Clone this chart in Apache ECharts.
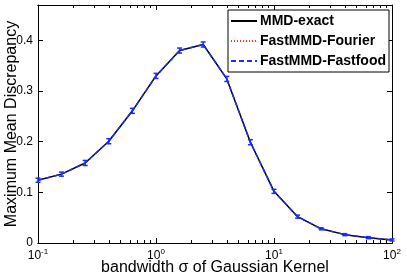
<!DOCTYPE html>
<html>
<head>
<meta charset="utf-8">
<script src="https://cdn.jsdelivr.net/npm/echarts@6/dist/echarts.min.js"></script>
<style>html,body{margin:0;padding:0;background:#fff}#c{width:407px;height:275px}</style>
</head>
<body>
<div id="c"></div>
<script>
var sigma = [0.1, 0.158, 0.251, 0.398, 0.631, 1, 1.585, 2.512, 3.981, 6.31, 10, 15.85, 25.12, 39.81, 63.1, 100];
var mmdExact    = [0.124, 0.136, 0.158, 0.201, 0.261, 0.330, 0.380, 0.392, 0.324, 0.199, 0.102, 0.052, 0.028, 0.0165, 0.0105, 0.006];
var mmdFourier  = [0.124, 0.136, 0.158, 0.201, 0.261, 0.330, 0.380, 0.392, 0.324, 0.199, 0.102, 0.052, 0.028, 0.0165, 0.0105, 0.006];
var mmdFastfood = [0.124, 0.136, 0.158, 0.201, 0.261, 0.330, 0.380, 0.392, 0.324, 0.199, 0.102, 0.052, 0.028, 0.0165, 0.0105, 0.006];
var errFastfood = [0.004, 0.004, 0.005, 0.005, 0.005, 0.005, 0.005, 0.005, 0.005, 0.005, 0.004, 0.003, 0.002, 0.002, 0.002, 0.002];
var xMajorTicks = [0.1, 1, 10, 100];
var xMinorTicks = [0.2, 0.3, 0.4, 0.5, 0.6, 0.7, 0.8, 0.9, 2, 3, 4, 5, 6, 7, 8, 9, 20, 30, 40, 50, 60, 70, 80, 90];
var yTicks = [0, 0.1, 0.2, 0.3, 0.4];
var expLabels = {0.1: '-1', 1: '0', 10: '1', 100: '2'};

var FONT = 'Liberation Sans';
var BLUE = '#1a2eff';

function pairs(ys) { return sigma.map(function (x, i) { return [x, ys[i]]; }); }

function xAxisDef(pos, minor, showLabels) {
  return {
    type: 'log', logBase: 10, min: 0.1, max: 100, position: pos,
    gridIndex: 0,
    axisLine: { show: true, onZero: false, lineStyle: { color: '#000', width: 1 } },
    axisTick: { show: true, inside: true, length: minor ? 3 : 5, lineStyle: { color: '#000' },
                customValues: minor ? xMinorTicks : xMajorTicks },
    axisLabel: showLabels ? {
      show: true, customValues: xMajorTicks, margin: 5,
      formatter: function (v) {
        var k = expLabels[v]; if (k === undefined) { k = String(Math.round(Math.log10(v))); }
        return '{b|10}{s|' + k + '}';
      },
      rich: {
        b: { fontSize: 12, fontFamily: FONT, color: '#000' },
        s: { fontSize: 8, fontFamily: FONT, color: '#000', verticalAlign: 'top', padding: [0, 0, 8, 0] }
      }
    } : { show: false },
    splitLine: { show: false },
    name: (pos === 'bottom' && showLabels) ? 'bandwidth σ of Gaussian Kernel' : '',
    nameLocation: 'middle', nameGap: 17, nameMoveOverlap: false,
    nameTextStyle: { fontSize: 16, fontFamily: FONT, color: '#000' }
  };
}

function yAxisDef(pos, showLabels) {
  return {
    type: 'value', min: 0, max: 0.47, position: pos,
    axisLine: { show: true, onZero: false, lineStyle: { color: '#000', width: 1 } },
    axisTick: { show: true, inside: true, length: 5, lineStyle: { color: '#000' }, customValues: yTicks },
    axisLabel: showLabels ? { show: true, customValues: yTicks, margin: 5, fontSize: 12, fontFamily: FONT, color: '#000' } : { show: false },
    splitLine: { show: false },
    name: showLabels ? 'Maximum Mean Discrepancy' : '',
    nameLocation: 'middle', nameGap: 18, nameMoveOverlap: false,
    nameTextStyle: { fontSize: 16, fontFamily: FONT, color: '#000' }
  };
}

var chart = echarts.init(document.getElementById('c'), null, { renderer: 'canvas' });
chart.setOption({
  animation: false,
  backgroundColor: '#fff',
  grid: { left: 38, right: 15, top: 5, bottom: 32, outerBoundsMode: 'none', containLabel: false },
  xAxis: [xAxisDef('bottom', false, true), xAxisDef('bottom', true, false), xAxisDef('top', false, false), xAxisDef('top', true, false)],
  yAxis: [yAxisDef('left', true), yAxisDef('right', false)],
  legend: {
    data: ['MMD-exact', 'FastMMD-Fourier', 'FastMMD-Fastfood'],
    orient: 'vertical', right: 18, top: 10,
    itemWidth: 26, itemHeight: 14, itemGap: 6,
    padding: [4, 3, 4, 2],
    borderColor: '#000', borderWidth: 1, backgroundColor: '#fff', borderRadius: 0,
    itemStyle: { opacity: 0 },
    textStyle: { fontSize: 14, fontWeight: 'bold', fontFamily: FONT, color: '#000', padding: [0, 0, 0, -2] }
  },
  series: [
    { name: 'MMD-exact', type: 'line', data: pairs(mmdExact), symbol: 'none', z: 3,
      lineStyle: { color: '#000', width: 1.5, type: 'solid' }, itemStyle: { color: '#000' } },
    { name: 'FastMMD-Fourier', type: 'line', data: pairs(mmdFourier), symbol: 'none', z: 2,
      lineStyle: { color: '#ff3030', width: 1, type: [1, 2] }, itemStyle: { color: '#ff3030' } },
    { name: 'FastMMD-Fastfood', type: 'line', data: pairs(mmdFastfood), symbol: 'none', z: 4,
      lineStyle: { color: BLUE, width: 1.5, type: [5, 3] }, itemStyle: { color: BLUE } },
    { name: 'errFastfood', type: 'custom', silent: true, z: 5,
      data: sigma.map(function (x, i) { return [x, mmdFastfood[i], errFastfood[i]]; }),
      renderItem: function (params, api) {
        var x = api.value(0), y = api.value(1), e = api.value(2);
        var lo = api.coord([x, y - e]), hi = api.coord([x, y + e]);
        var w = 2.5;
        var st = { stroke: BLUE, lineWidth: 1.5 };
        return { type: 'group', children: [
          { type: 'line', shape: { x1: lo[0], y1: lo[1], x2: hi[0], y2: hi[1] }, style: st },
          { type: 'line', shape: { x1: lo[0] - w, y1: lo[1], x2: lo[0] + w, y2: lo[1] }, style: st },
          { type: 'line', shape: { x1: hi[0] - w, y1: hi[1], x2: hi[0] + w, y2: hi[1] }, style: st }
        ]};
      }
    }
  ]
});
</script>
</body>
</html>
